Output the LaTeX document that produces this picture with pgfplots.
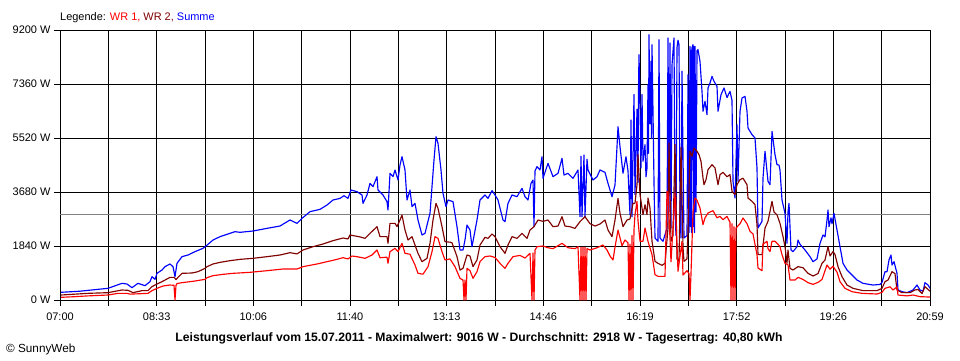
\documentclass[border=0pt]{standalone}
\usepackage{fontspec}
\setmainfont{Liberation Sans}
\usepackage{pgfplots}
\pgfplotsset{compat=1.18}
\definecolor{wrzwei}{RGB}{128,0,0}
\definecolor{avg}{RGB}{128,128,128}
\begin{document}
\begin{tikzpicture}[x=1bp,y=1bp]
\useasboundingbox (0,0) rectangle (960,360);
\begin{axis}[
  at={(60bp,60bp)}, anchor=south west,
  scale only axis, width=870bp, height=270bp,
  xmin=0, xmax=870, ymin=0, ymax=9200,
  axis line style={black, line width=1bp},
  grid=major, grid style={black, line width=1bp},
  tick align=outside, major tick length=6bp,
  tick style={black, line width=1bp},
  xtick pos=lower, ytick pos=left,
  xtick={0,48.333,96.667,145,193.333,241.667,290,338.333,386.667,435,483.333,531.667,580,628.333,676.667,725,773.333,821.667,870},
  xticklabels={07:00,,08:33,,10:06,,11:40,,13:13,,14:46,,16:19,,17:52,,19:26,,20:59},
  ytick={0,1840,3680,5520,7360,9200},
  yticklabels={0 W,1840 W,3680 W,5520 W,7360 W,9200 W},
  tick label style={font=\fontsize{11}{13}\selectfont},
  x tick label style={yshift=-3bp},
  no markers,
  every axis plot/.append style={line width=1.15bp, line join=round},
  clip=true,
]
\addplot[avg, line width=1bp] coordinates {(0,2918) (870,2918)};
% Summe
\addplot[blue] coordinates {
(1,262) (20,300) (48,398) (62,568) (67,545) (72,420) (78,568) (85,488) (90,625) (92,795) (95,704) (97,909) (102,1022) (105,1136) (110,1227) (113,1136) (115,795) (117,1250) (122,1477) (128,1533) (135,1647) (143,1761) (146,1840) (153,2044) (160,2158) (170,2271) (175,2328) (180,2306) (193,2351) (207,2441) (220,2521) (230,2726) (237,2612) (242,2783) (250,3010) (260,3089) (267,3237) (273,3407) (280,3463) (284,3554) (288,3463) (291,3748) (297,3691) (302,3578) (303,3293) (307,3578) (310,3975) (313,3861) (317,4202) (318,3748) (323,3578) (327,3351) (328,3067) (330,4316) (333,4202) (335,4430) (338,4089) (340,4600) (342,4884) (345,4430) (347,3407) (350,3748) (352,3180) (355,3293) (358,2726) (362,2215) (365,2271) (370,2953) (372,3861) (374,4770) (376,5565) (378,5338) (381,4430) (383,3634) (386,3180) (388,3407) (393,3351) (397,2498) (400,1704) (403,1704) (405,2044) (407,2555) (410,2385) (412,1817) (417,2726) (420,3407) (425,3578) (428,3463) (432,3725) (435,3578) (438,3407) (443,2726) (445,2669) (448,3293) (452,3578) (457,3520) (462,3804) (465,3520) (468,3407) (471,3975) (473,4089) (474,2498) (475,4400) (477,4543) (480,4430) (482,4884) (483,4145) (488,4657) (493,4202) (498,4316) (502,4827) (504,4259) (508,4316) (513,4145) (518,4430)
(520,2839) (521,4900) (522,2839) (524,4941) (525,2839) (527,4800) (528,4430) (533,4089) (537,4200) (540,4430) (545,4350) (548,3975) (552,3520) (555,3918) (557,5225) (558,5906) (560,5225) (563,4316) (566,4884) (568,4400)
(570,2900) (571,6133) (572,2839) (574,7000) (575,3589) (576,5000) (577,6500) (578,4000) (578.5,7224) (579,8360) (580,6656) (581,4500) (582,7000) (583,4725) (585,5293) (586,4200) (587,4498) (588,7337) (588.5,5000) (589,9040) (590,6000) (591,8133) (591.5,5500) (592,8700) (593,6429) (594,4000) (595,2112) (598,2000) (599,8870) (600,2112) (603,2000) (607,2453) (608,8927) (609,3000) (610,8757) (611,2453) (612,8000) (613,8473) (614,8927) (615,3000) (616,2200) (617,8600) (618,8850) (619,8700) (620,3000) (621,2112) (622,7800) (624,2112) (627,2200) (628,7678) (629,2300) (630,8643) (630.5,2500) (631,8500) (631.5,2300) (632,8600) (633,8700) (633.5,2500) (634,8643) (634.5,2300) (635,8643) (636,3000) (637,8500) (638,8530) (640,8133) (642,7110) (643,6429) (645,6770) (647,6315) (648,7224) (650,7394) (652,7621) (654,7451) (657,7281) (658,6429) (661,6997) (664,7224) (667,6900) (670,7110) (672,6800) (673,4043) (675,3475) (677,5975) (678,4043) (680,6429) (682,6883) (685,6940) (687,6429) (688,5861) (692,5634) (695,5520) (697,4498) (698,2453) (702,2681) (703,4157) (705,5066) (707,4384) (708,4043) (710,3929) (712,5747) (715,4952) (717,4611) (719,4600) (720,4430) (722,3407) (725,2953) (727,1931) (728,3000) (729,3293) (731,1704) (733,1647) (737,1817) (738,2044) (740,1900) (745,1704) (750,1477) (753,1306) (757,1400) (760,1931) (763,2215) (765,2150) (767,2726) (768,3067) (769,2498) (771,2800) (772,2600) (774,2953) (777,2385) (780,1817) (783,1250) (787,1022) (792,852) (797,681) (803,568) (813,511) (820,530) (822,600) (825,965) (827,965) (829,1363) (831,1533) (832,1193) (834,1306) (837,909) (838,341) (842,284) (847,250) (853,341) (857,511) (860,341) (863,300) (865,591) (868,511) (870,400)
};
% WR 2
\addplot[wrzwei] coordinates {
(1,170) (28,227) (48,250) (62,341) (68,330) (73,250) (82,318) (88,318) (92,454) (95,511) (102,625) (110,772) (114,772) (116,700) (122,909) (132,920) (138,965) (145,1079) (147,1136) (153,1227) (160,1283) (170,1340) (180,1385) (193,1420) (207,1477) (220,1533) (230,1613) (237,1570) (243,1704) (253,1817) (263,1908) (273,2022) (283,2112) (288,2080) (290,2215) (300,2150) (305,2101) (310,2271) (317,2498) (320,2158) (327,2158) (328,1931) (330,2612) (335,2612) (337,2500) (340,2726) (342,2896) (345,2385) (348,2044) (352,2158) (355,1874) (358,1590) (362,1306) (367,1420) (370,1931) (373,2726) (376,3293) (378,3124) (382,2498) (385,1988) (390,1970) (392,1950) (397,1477) (400,1022) (403,1079) (407,1533) (410,1500) (413,1136) (417,1363) (420,1874) (425,2135) (428,2100) (432,2249) (435,2158) (440,1817) (445,1590) (448,1874) (452,2158) (457,2100) (462,2271) (467,2100) (470,2385) (474,2498) (478,2726) (483,2680) (488,2726) (493,2498) (498,2520) (502,2839) (505,2520) (510,2498) (515,2441) (520,2669) (525,2839) (530,2600) (535,2520) (540,2590) (545,2726) (548,2385) (552,2158) (555,2726) (558,3463) (560,2953) (563,2498) (567,2726) (570,2760) (573,3293)
(575,3300) (577,3929) (578,4952) (580,3589) (583,2908) (585,3248) (587,2908) (588,3475) (590,3134) (592,2000) (595,1318) (598,1250) (602,1182) (605,1250) (608,2453) (609,5349) (611,2000) (613,2200) (615,5300) (617,1400) (619,1318) (621,5200) (623,1800) (624,1318) (627,1400) (628,2400) (630,5066) (632,4900) (634,5179) (637,5066) (639,4952) (641,4725) (643,4157) (644,3929) (646,4100) (648,4441) (652,4611) (655,4500) (658,3929) (660,4271) (663,4350) (667,4200) (670,4271) (672,3702) (675,3589) (677,3929) (680,4100) (683,4150) (687,3929) (688,3475) (692,3361) (695,3250) (697,2567) (698,1545) (702,1545) (705,2453) (708,2681) (712,3361) (714,3000) (717,2900) (720,2612) (723,2158) (725,1817) (727,1250) (728,1704) (730,1079) (733,1022) (738,1136) (743,1100) (748,909) (753,818) (758,900) (762,1250) (765,1363) (768,1817) (770,1500) (773,1650) (775,1550) (778,1136) (782,795) (787,511) (793,398) (803,318) (817,318) (822,398) (825,625) (828,680) (832,965) (835,900) (837,341) (842,250) (850,250) (855,341) (858,360) (862,220) (865,454) (870,300)
};
% WR 1
\addplot[red] coordinates {
(1,91) (15,114) (28,140) (48,170) (58,227) (67,227) (70,200) (77,210) (88,227) (92,318) (97,398) (103,477) (110,511) (114,500) (115,0) (116,500) (117,560) (122,591) (135,647) (145,704) (147,761) (153,829) (163,874) (173,909) (190,943) (207,999) (223,1056) (237,1056) (243,1136) (257,1227) (267,1306) (277,1385) (283,1443) (288,1400) (292,1499) (298,1470) (305,1420) (312,1533) (317,1704) (320,1440) (327,1460) (328,1250) (330,1647) (335,1761) (338,1650) (342,1931) (345,1590) (350,1560) (355,1193) (358,909) (363,880) (368,1136) (372,1647) (375,2158) (378,2100) (382,1647) (385,1363) (390,1400) (395,1136) (400,738) (403,681) (404,0) (405,681) (406,0) (407,1079) (410,1000) (413,738) (417,965) (420,1306) (425,1477) (430,1500) (435,1450) (440,1250) (445,1079) (448,1250) (453,1477) (460,1520) (465,1430) (470,1590) (472,0) (473,1600) (474,0) (475,1700) (477,1817) (483,1840) (488,1780) (493,1750) (502,1931) (508,1780) (515,1750) (518,1817)
(520,0) (521,1800) (522,0) (523,1800) (524,0) (525,1800) (526,0) (527,1750) (530,1704) (537,1780) (543,1874) (547,1704) (550,1500) (553,1363) (555,1800) (558,2385) (562,1850) (565,2044) (568,1950)
(569,0) (570,1900) (571,0) (572,2200) (573,0) (574,2400) (575,2908) (577,3361) (578,2700) (580,2000) (583,2000) (585,2453) (588,2000) (592,1545) (595,863) (598,806) (605,806) (607,3702) (608,3650) (611,1300) (615,3650) (618,977) (622,2000) (623,850) (627,1000) (629,900) (630,0) (631,900) (633,3000) (635,3475) (637,3400) (640,3134) (643,2567) (645,2800) (648,2964) (653,3044) (657,2800) (660,2850) (663,2737) (667,2850) (670,2650)
(671,0) (672,2600) (673,0) (674,2500) (675,0) (676,2453) (680,2600) (683,2794) (687,2600) (690,2340) (693,2250) (697,1545) (698,1090) (702,1000) (703,1900) (707,2000) (708,1750) (710,1650) (712,2000) (715,2000) (718,1900) (720,1817) (722,1545) (725,1250) (728,1200) (730,681) (735,681) (738,772) (743,700) (748,591) (753,534) (758,600) (762,700) (767,1193) (770,1050) (773,1150) (777,950) (780,625) (785,398) (792,284) (802,227) (817,204) (822,260) (825,398) (830,450) (833,340) (837,450) (838,170) (847,140) (853,170) (860,114) (870,100)
};
\end{axis}
\node[anchor=base west, inner sep=0, font=\fontsize{11}{13}\selectfont] at (60,339.5) {Legende: \textcolor{red}{WR 1,} \textcolor{wrzwei}{WR 2,} \textcolor{blue}{Summe}};
\node[anchor=base, inner sep=0, font=\fontsize{12.2}{14}\selectfont\bfseries] at (479,18.3) {Leistungsverlauf vom 15.07.2011 - Maximalwert: 9016 W - Durchschnitt: 2918 W - Tagesertrag: 40,80 kWh};
\node[anchor=base west, inner sep=0, font=\fontsize{11.8}{14}\selectfont] at (6,7.3) {\textcopyright{} SunnyWeb};
\end{tikzpicture}
\end{document}
